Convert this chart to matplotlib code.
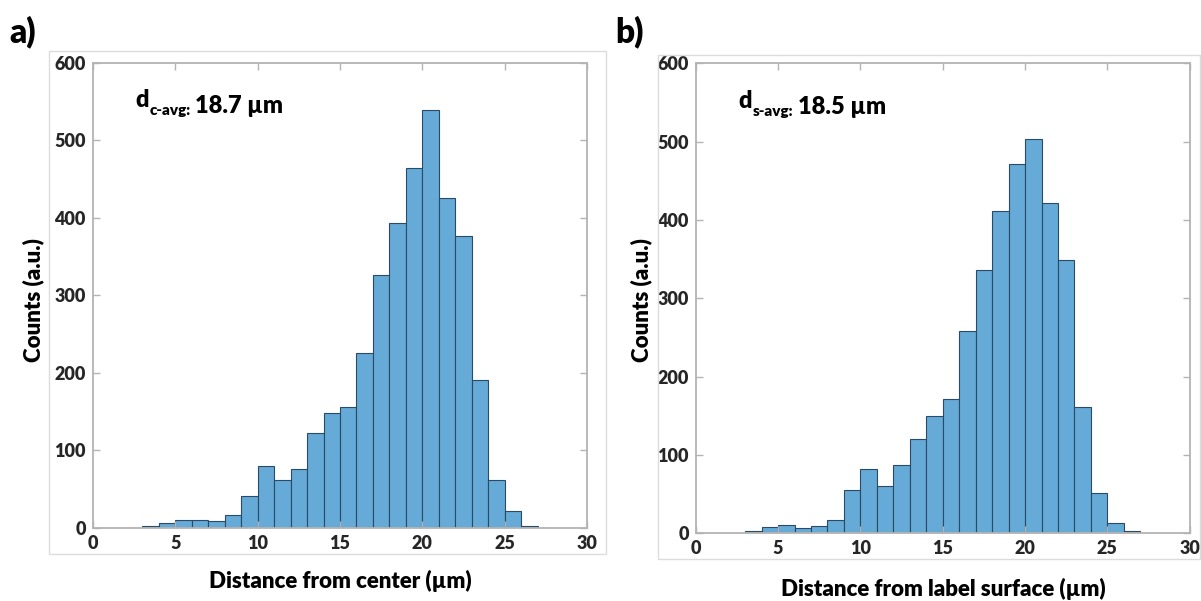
import matplotlib
matplotlib.use("Agg")
import matplotlib.pyplot as plt
from matplotlib.patches import Rectangle
import numpy as np

plt.rcParams['font.family'] = ['Lato', 'DejaVu Sans']

# bin edges (µm) and counts
bin_edges = list(range(3, 28))
counts_center = [2, 6, 10, 10, 9, 16, 41, 80, 61, 76, 122, 148, 156, 225,
                 326, 393, 464, 539, 425, 376, 190, 62, 21, 2]
counts_surface = [3, 8, 11, 7, 9, 17, 55, 82, 61, 87, 120, 150, 172, 258,
                  336, 411, 471, 504, 422, 349, 161, 52, 13, 3]

xticks = [0, 5, 10, 15, 20, 25, 30]
yticks = [0, 100, 200, 300, 400, 500, 600]

face = '#66AAD7'
edge = '#2a4a66'
spine_col = '#b3b3b3'
text_col = '#262626'
W = 'heavy'

fig = plt.figure(figsize=(12.01, 6.01), dpi=100)

# outer light frames (figure panels)
for (x0, y0, x1, y1) in [(0.0408, 0.0782, 0.5046, 0.9156),
                         (0.5476, 0.0699, 0.9995, 0.9085)]:
    fig.patches.append(Rectangle((x0, y0), x1 - x0, y1 - y0, transform=fig.transFigure,
                                 fill=False, edgecolor='#dcdcdc', linewidth=1.0))

axL = fig.add_axes([0.0772, 0.1220, 0.4118, 0.7737])
axR = fig.add_axes([0.5793, 0.1126, 0.4113, 0.7820])

for ax, counts in [(axL, counts_center), (axR, counts_surface)]:
    edges = np.array(bin_edges)
    ax.bar(edges[:-1], counts, width=np.diff(edges), align='edge',
           color=face, edgecolor=edge, linewidth=0.8)
    ax.set_xlim(0, 30)
    ax.set_ylim(0, 600)
    ax.set_xticks(xticks)
    ax.set_yticks(yticks)
    ax.tick_params(direction='in', length=5, width=1, color=spine_col,
                   top=True, right=True, labelsize=13, labelcolor=text_col, pad=5)
    for lab in ax.get_xticklabels() + ax.get_yticklabels():
        lab.set_fontweight(W)
    for s in ax.spines.values():
        s.set_color(spine_col)
        s.set_linewidth(1.3)


def avg_label(ax, sub, value):
    t1 = ax.text(0.087, 0.905, 'd', transform=ax.transAxes, fontsize=17,
                 fontweight=W, color='black', ha='left', va='baseline')
    t2 = ax.annotate(sub, xy=(1, 0), xycoords=t1, xytext=(0.5, -3),
                     textcoords='offset points', fontsize=11, fontweight=W,
                     color='black', ha='left', va='baseline')
    ax.annotate(value, xy=(1, 0), xycoords=t2, xytext=(3, 3),
                textcoords='offset points', fontsize=17, fontweight=W,
                color='black', ha='left', va='baseline')


avg_label(axL, 'c-avg:', '18.7 µm')
avg_label(axR, 's-avg:', '18.5 µm')

# axis labels
fig.text(340 / 1201, 1 - 581 / 601, 'Distance from center (µm)', ha='center', va='center',
         fontsize=16, fontweight=W, color='black')
fig.text(943 / 1201, 1 - 589 / 601, 'Distance from label surface (µm)', ha='center', va='center',
         fontsize=16, fontweight=W, color='black')
fig.text(33 / 1201, 1 - 300 / 601, 'Counts (a.u.)', ha='center', va='center', rotation=90,
         fontsize=16, fontweight=W, color='black')
fig.text(641 / 1201, 1 - 300 / 601, 'Counts (a.u.)', ha='center', va='center', rotation=90,
         fontsize=16, fontweight=W, color='black')

# panel letters
fig.text(9 / 1201, 1 - 32 / 601, 'a)', ha='left', va='center', fontsize=24, fontweight=W)
fig.text(615 / 1201, 1 - 32 / 601, 'b)', ha='left', va='center', fontsize=24, fontweight=W)

fig.savefig('out.png', dpi=100)
